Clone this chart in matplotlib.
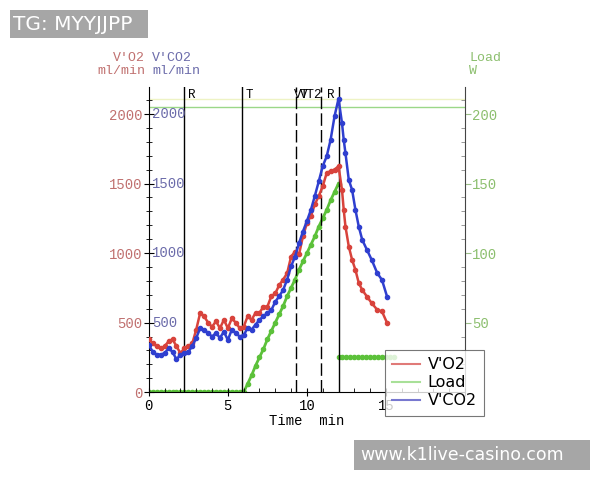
import matplotlib
matplotlib.use("Agg")
import matplotlib.pyplot as plt
from matplotlib.lines import Line2D
from matplotlib.patches import Rectangle
from matplotlib.ticker import MultipleLocator

nan = float("nan")

# sampling every 0.25 min
vo2_time = [i * 0.25 for i in range(49)] + [12.22, 12.33, 12.44, 12.65, 12.86, 13.07, 13.28,
                                            13.5, 13.8, 14.1, 14.45, 14.75, 15.07]
vo2 = [380, 350, 330, 315, 330, 365, 380, 330, 280, 315, 330, 350, 450, 570, 545, 500, 470,
       510, 460, 520, 460, 530, 500, 460, 470, 545, 520, 570, 570, 615, 615, 690, 710, 770,
       810, 855, 975, 1010, 990, 1120, 1215, 1265, 1350, 1410, 1480, 1575, 1590, 1600, 1625,
       1454, 1311, 1190, 1047, 951, 879, 785, 735, 687, 640, 592, 580, 498]
vco2 = [340, 290, 270, 270, 280, 315, 290, 235, 270, 280, 290, 330, 390, 460, 450, 425, 400,
        425, 390, 435, 375, 450, 425, 400, 410, 460, 450, 485, 520, 545, 570, 590, 650, 690,
        735, 810, 905, 975, 1070, 1155, 1230, 1310, 1410, 1515, 1625, 1695, 1815, 1985, 2110,
        1934, 1814, 1718, 1526, 1454, 1311, 1191, 1095, 1023, 951, 856, 807, 687]

# ramp 0-12 min, gap, then recovery load from 12 min
load_time = [i * 0.25 for i in range(49)] + [12.0] + [12.0 + i * 0.25 for i in range(15)]
load = [0] * 24 + [0, 6, 12, 19, 25, 31, 38, 44, 50, 56, 62, 69, 75, 81, 88, 94, 100, 106,
                   112, 119, 125, 131, 138, 144, 150] + [nan] + [25] * 15

event_times = [2.2, 5.9, 9.3, 10.9, 12.0]
event_styles = ["-", "-", "--", "--", "-"]
event_labels = [("R", 2.45), ("T", 6.15), ("VT", 9.2), ("VT2", 9.55), ("R", 11.3)]

x_ticks = [0, 5, 10, 15, 20]
x_ticklabels = ["0", "5", "10", "15", ""]

RED, BLUE, GREEN = "#d8433c", "#2f3fcf", "#5cc13a"
RED_T, BLUE_T, GREEN_T = "#c0706f", "#6b6baa", "#8cbf6e"
mono = "Liberation Mono"

fig = plt.figure(figsize=(6, 4.8), dpi=100)
ax = fig.add_axes([0.248, 0.183, 0.527, 0.636])
ax2 = ax.twinx()

ax.set_xlim(0, 20)
ax.set_ylim(0, 2195)
ax2.set_ylim(0, 219.5)

ax2.axhline(211, color="#eef3c4", lw=1, zorder=1)
ax2.axhline(205, color="#9bd788", lw=1, zorder=1)

for t, ls in zip(event_times, event_styles):
    ax.axvline(t, color="black", lw=1, ls=(0, (9, 3)) if ls == "--" else "-", zorder=2)
for lab, t in event_labels:
    ax.text(t, 2135, lab, fontfamily=mono, fontsize=9, va="center", ha="left")

ax2.plot(load_time, load, color=GREEN, marker="o", ms=3, lw=2, zorder=3)
ax.plot(vo2_time, vo2, color=RED, marker="o", ms=3, lw=1.8, zorder=4)
ax.plot(vo2_time, vco2, color=BLUE, marker="o", ms=3, lw=1.8, zorder=5)
ax.set_zorder(ax2.get_zorder() + 1)
ax.patch.set_visible(False)

for a in (ax, ax2):
    a.spines["top"].set_visible(False)
ax.spines["right"].set_visible(False)
ax2.spines["left"].set_visible(False)
ax2.spines["bottom"].set_visible(False)
ax2.spines["right"].set_color("#444444")

ax.set_xticks(x_ticks)
ax.set_xticklabels(x_ticklabels)
ax.xaxis.set_minor_locator(MultipleLocator(1))
ax.yaxis.set_major_locator(MultipleLocator(500))
ax.yaxis.set_minor_locator(MultipleLocator(100))
ax2.yaxis.set_minor_locator(MultipleLocator(10))

ax.tick_params(axis="x", which="major", direction="inout", length=6, labelsize=10, pad=2)
ax.tick_params(axis="x", which="minor", direction="in", length=3)
ax.tick_params(axis="y", which="major", direction="inout", length=7, labelsize=10,
               labelcolor=RED_T, pad=1)
ax.tick_params(axis="y", which="minor", direction="inout", length=4)
ax2.tick_params(axis="y", which="major", direction="out", length=4, labelsize=10,
                labelcolor=GREEN_T, color="#9bbf88", pad=1)
ax2.tick_params(axis="y", which="minor", direction="in", length=3, color="#888888")
ax2.set_yticks([50, 100, 150, 200])
for lbl in ax.get_xticklabels() + ax.get_yticklabels() + ax2.get_yticklabels():
    lbl.set_fontfamily(mono)

for v in [500, 1000, 1500, 2000]:
    ax.text(0.011, v, str(v), transform=ax.get_yaxis_transform(), fontfamily=mono,
            fontsize=10, color=BLUE_T, va="center", ha="left")

ax.set_xlabel("Time  min", fontfamily=mono, fontsize=10, labelpad=1)

fig.text(0.242, 0.866, "V'O2\nml/min", fontfamily=mono, fontsize=9.5, color=RED_T,
         ha="right", va="center", linespacing=1.1)
fig.text(0.254, 0.866, "V'CO2\nml/min", fontfamily=mono, fontsize=9.5, color=BLUE_T,
         ha="left", va="center", linespacing=1.1)
fig.text(0.782, 0.866, "Load\nW", fontfamily=mono, fontsize=9.5, color=GREEN_T,
         ha="left", va="center", linespacing=1.1)

handles = [Line2D([], [], color="#e07a78", lw=1.5),
           Line2D([], [], color="#a8e098", lw=1.5),
           Line2D([], [], color="#7878d0", lw=1.5)]
leg = fig.legend(handles, ["V'O2", "Load", "V'CO2"], loc="upper left",
                 bbox_to_anchor=(0.642, 0.271), borderaxespad=0, frameon=True,
                 fancybox=False, fontsize=11.5, handlelength=1.7, labelspacing=0.2,
                 borderpad=0.45, handletextpad=0.5)
leg.get_frame().set_edgecolor("#555555")
leg.get_frame().set_linewidth(0.8)

# watermark boxes
fig.add_artist(Rectangle((10 / 600, 1 - 38 / 480), 138 / 600, 28 / 480,
                         transform=fig.transFigure, fc="#a6a6a6", ec="none"))
fig.text(13 / 600, 1 - 24 / 480, "TG: MYYJJPP", fontsize=14.5, color="white",
         va="center", ha="left")
fig.add_artist(Rectangle((354 / 600, 1 - 470 / 480), 236 / 600, 30 / 480,
                         transform=fig.transFigure, fc="#a6a6a6", ec="none"))
fig.text(360 / 600, 1 - 455 / 480, "www.k1live-casino.com", fontsize=12.5, color="white",
         va="center", ha="left")

fig.savefig("out.png", dpi=100)
